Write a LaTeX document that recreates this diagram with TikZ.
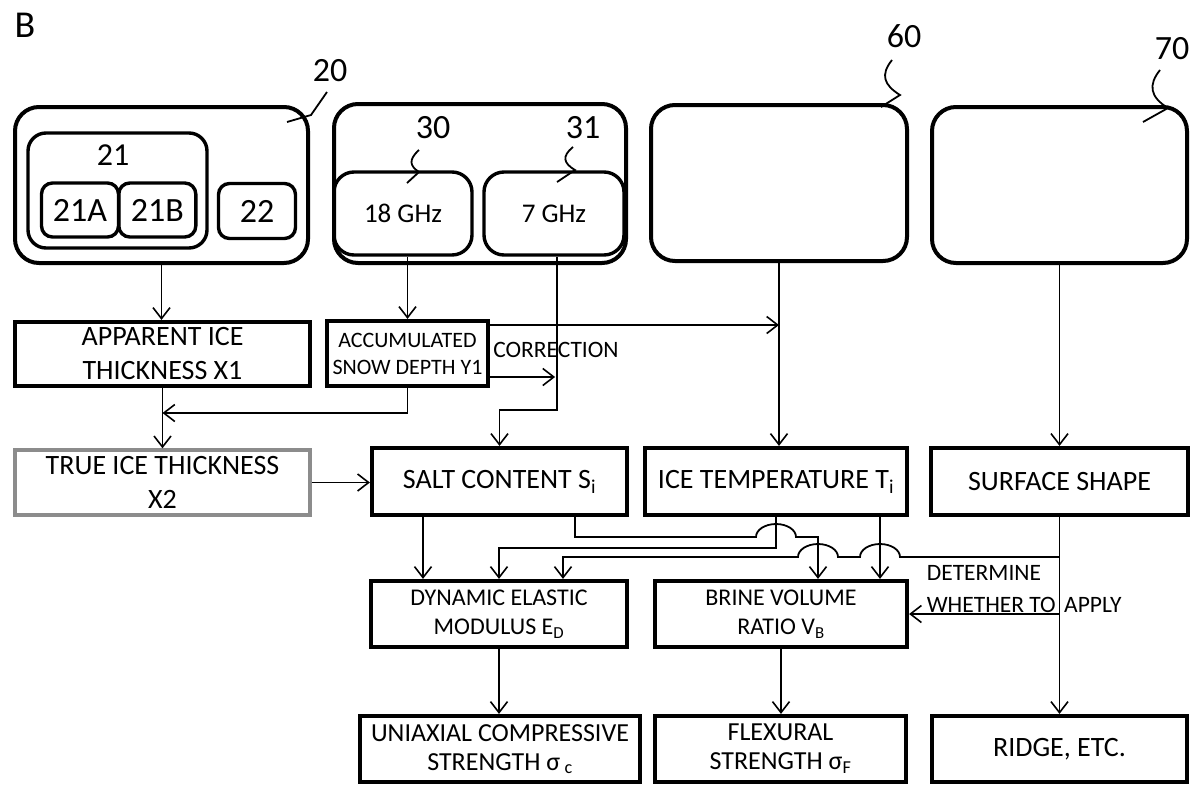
\documentclass[tikz,border=0pt]{standalone}
\usepackage{fontspec}
\setmainfont{Carlito}
\usetikzlibrary{arrows.meta,calc}
\tikzset{
  sq/.style={draw, line width=4.2pt, inner sep=0pt, align=center, font=\fontsize{28}{34}\selectfont},
  rb/.style={draw, line width=4pt, rounded corners=24pt, inner sep=0pt},
  rs/.style={draw, line width=3.4pt, rounded corners=11pt, inner sep=0pt, font=\fontsize{34}{34}\selectfont},
  ln/.style={line width=1.8pt},
  arr/.style={ln, -{Straight Barb[length=11pt,width=17pt,line width=1.6pt]}},
  num/.style={font=\fontsize{34}{34}\selectfont, inner sep=0pt},
  lab/.style={font=\fontsize{23.5}{23.5}\selectfont, inner sep=0pt},
}
\begin{document}
\begin{tikzpicture}[x=1pt,y=-1pt]
\useasboundingbox[fill=white] (0,0) rectangle (1192,788);

% ---- top label
\node[font=\fontsize{38}{38}\selectfont, inner sep=0pt] (lb) at (25,25) {B};

% ---- rounded units
\node[rb, minimum width=293pt, minimum height=156pt] (b20) at (161.5,185) {};
\node[rs, rounded corners=18pt, minimum width=179pt, minimum height=115pt] (b21) at (117.5,190.5) {};
\node[rs, minimum width=77pt, minimum height=54pt] (b21a) at (80,210) {21A};
\node[rs, minimum width=77pt, minimum height=54pt] (b21b) at (157.3,210) {21B};
\node[rs, minimum width=77pt, minimum height=55pt] (b22) at (257,211) {22};
\node[font=\fontsize{32}{32}\selectfont, inner sep=0pt] (l21) at (113,155) {21};

\node[rb, minimum width=292pt, minimum height=159pt] (b3x) at (480,183.5) {};
\node[rs, rounded corners=20pt, font=\fontsize{27}{27}\selectfont, minimum width=138pt, minimum height=83pt] (b30) at (403,213.5) {18 GHz};
\node[rs, rounded corners=20pt, font=\fontsize{27}{27}\selectfont, minimum width=140pt, minimum height=83pt] (b31) at (554,213.5) {7 GHz};

\node[rb, minimum width=256pt, minimum height=156pt] (b60) at (779,183) {};
\node[rb, minimum width=255pt, minimum height=156pt] (b70) at (1059.5,185) {};

% ---- reference numerals and leaders
\node[num] (l20) at (330,71) {20};
\draw[ln] (327,92) -- (311,115) -- (287,122);
\node[num] (l30) at (433,128) {30};
\draw[ln] (419,150) .. controls (408,160) and (410,166) .. (419,172) -- (407,183);
\node[num] (l31) at (583,128) {31};
\draw[ln] (573,147) .. controls (562,156) and (563,163) .. (575,170) -- (557,182);
\node[num] (l60) at (904,36) {60};
\draw[ln] (892,60) .. controls (880,75) and (884,85) .. (900,95) -- (881,107);
\node[num] (l70) at (1172,49) {70};
\draw[ln] (1160,70) .. controls (1148,85) and (1150,97) .. (1168,108) -- (1143,122);

% ---- rectangular boxes
\node[sq, minimum width=295pt, minimum height=64pt] (app) at (162.5,354) {APPARENT ICE\\THICKNESS X1};
\node[sq, font=\fontsize{22}{27}\selectfont, minimum width=161pt, minimum height=65pt] (acc) at (407.5,353.5) {ACCUMULATED\\SNOW DEPTH Y1};
\node[sq, draw=black!45, line width=3.4pt, minimum width=295pt, minimum height=65pt] (tru) at (162.5,482.5) {TRUE ICE THICKNESS\\X2};
\node[sq, minimum width=255pt, minimum height=67pt] (salt) at (499.5,481.5) {SALT CONTENT S\textsubscript{i}};
\node[sq, minimum width=262pt, minimum height=67pt] (temp) at (776,481.5) {ICE TEMPERATURE T\textsubscript{i}};
\node[sq, minimum width=257pt, minimum height=67pt] (surf) at (1059.5,481.5) {SURFACE SHAPE};
\node[sq, font=\fontsize{24}{29}\selectfont, minimum width=256pt, minimum height=66pt] (dyn) at (499,614) {DYNAMIC ELASTIC\\MODULUS E\textsubscript{D}};
\node[sq, font=\fontsize{24}{29}\selectfont, minimum width=252pt, minimum height=66pt] (brine) at (781,614) {BRINE VOLUME\\RATIO V\textsubscript{B}};
\node[sq, font=\fontsize{26}{29}\selectfont, minimum width=280pt, minimum height=66pt] (uni) at (500,749) {UNIAXIAL COMPRESSIVE\\STRENGTH σ\,\textsubscript{c}};
\node[sq, font=\fontsize{26}{29}\selectfont, minimum width=251pt, minimum height=66pt] (flex) at (780.5,749) {FLEXURAL\\STRENGTH σ\textsubscript{F}};
\node[sq, minimum width=255pt, minimum height=66pt] (ridge) at (1059.5,749) {RIDGE, ETC.};

% ---- text labels on connectors
\node[lab] (corr) at (556,350) {CORRECTION};
\node[lab] (det) at (984,573) {DETERMINE};
\node[lab, anchor=east] (wta) at (1056,605) {WHETHER TO};
\node[lab, anchor=west] (apl) at (1064,605) {APPLY};

% ---- connectors
\draw[arr] (b20.south) -- (b20.south |- app.north);
\draw[arr] (acc.north |- b30.south) -- (acc.north);
\coordinate (k31) at (557,410);
\draw[arr] (k31 |- b31.south) -- (k31) -| (salt.north);
\draw[arr] (acc.east |- 0,325) -- (b60.south |- 0,325);
\draw[arr] (acc.east |- 0,377) -- ++(65,0);
\draw[arr] (b60.south) -- (b60.south |- temp.north);
\draw[arr] (b70.south) -- (surf.north);
\draw[arr] (acc.south) |- (app.south |- 0,413);
\draw[arr] (app.south) -- (tru.north);
\draw[arr] (tru.east) -- (salt.west |- tru.east);
\draw[arr] ([xshift=-76.5pt]salt.south) -- ([xshift=-76.5pt]salt.south |- dyn.north);
\draw[arr] ([xshift=75.5pt]salt.south) |- (756,537)
   arc[start angle=180, end angle=0, x radius=20pt, y radius=13pt]
   -| ([xshift=37pt]brine.north);
\draw[arr] (temp.south) |- (dyn.north |- 0,548) -- (dyn.north);
\draw[arr] ([xshift=104pt]temp.south) -- ([xshift=104pt]temp.south |- brine.north);
\draw[arr] (surf.south) -- (ridge.north);
\draw[arr] (surf.south |- 0,557) -- (900,557)
   arc[start angle=0, end angle=180, x radius=20pt, y radius=13pt]
   -- (838,557)
   arc[start angle=0, end angle=180, x radius=20pt, y radius=13pt]
   -| ([xshift=64pt]dyn.north);
\draw[arr] (surf.south |- brine.east) -- (brine.east);
\draw[arr] (dyn.south) -- (dyn.south |- uni.north);
\draw[arr] (brine.south) -- (brine.south |- flex.north);
\end{tikzpicture}
\end{document}
